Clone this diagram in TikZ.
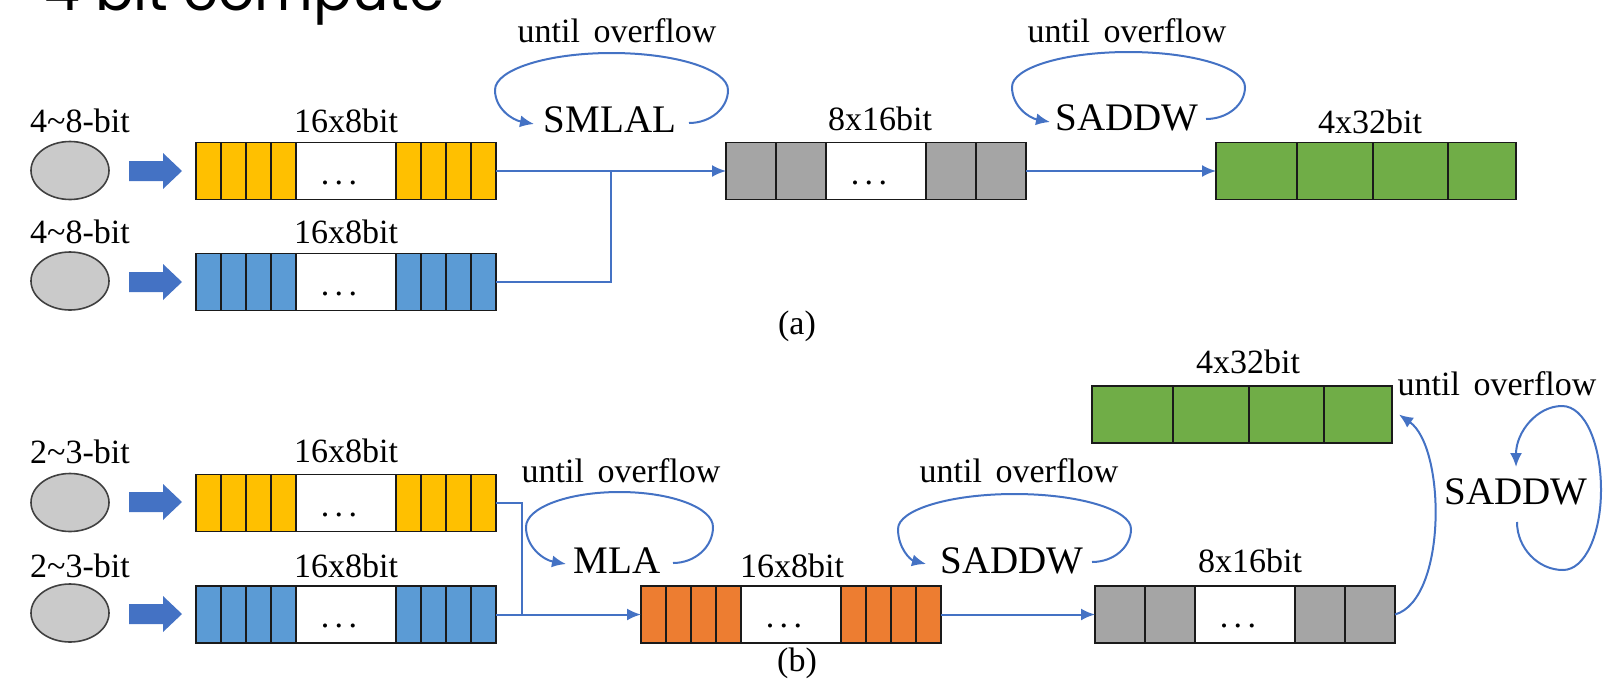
\documentclass[tikz,border=0pt]{standalone}
\usepackage{fontspec}
\setmainfont{Liberation Serif}
\newfontfamily\titlefont{Poppins}
\usetikzlibrary{shapes.geometric,arrows.meta}

\definecolor{laneyellow}{HTML}{FFC000}
\definecolor{laneblue}{HTML}{5B9BD5}
\definecolor{laneorange}{HTML}{ED7D31}
\definecolor{lanegray}{HTML}{A5A5A5}
\definecolor{lanegreen}{HTML}{70AD47}
\definecolor{flowblue}{HTML}{4472C4}
\definecolor{srcfill}{HTML}{CACACA}
\definecolor{srcline}{HTML}{404040}
\definecolor{regline}{HTML}{1A1A1A}

\tikzset{
  reg/.style={rectangle, draw=regline, line width=1.9pt, fill=white,
    minimum width=300pt, minimum height=57pt, inner sep=0pt, outer sep=0pt},
  lane/.style={draw=regline, line width=1.9pt},
  src/.style={ellipse, draw=srcline, line width=1.6pt, fill=srcfill,
    minimum width=78pt, minimum height=58pt, inner sep=0pt},
  lbl/.style={anchor=base, inner sep=0pt, font=\fontsize{34}{40}\selectfont},
  op/.style={anchor=base, inner sep=0pt, font=\fontsize{39}{46}\selectfont},
  dots/.style={anchor=base, inner sep=0pt, font=\fontsize{34}{40}\selectfont},
  flow/.style={draw=flowblue, line width=2pt},
  flowtip/.style={-{Latex[length=14pt,width=12pt]}},
  blockarrow/.style={fill=flowblue},
}

% coloured lanes of a register: list macro of left/right offsets from its west side
\newcommand\fillLanes[3]{%
  \foreach \lo/\hi in #3
    \draw[lane, fill=#2] ([xshift=\lo pt]#1.north west) rectangle ([xshift=\hi pt]#1.south west);
}
\newcommand\lanedots{.\kern5.5pt.\kern5.5pt.}
\newcommand\sixteenLanes{0/25,25/50,50/75,75/100,200/225,225/250,250/275,275/300}
\newcommand\eightLanes{0/50,50/100,200/250,250/300}
\newcommand\fourLanes{0/81,81/157,157/232,232/300}

% fat input arrow: left x, centre y
\newcommand\inputArrow[2]{%
  \fill[blockarrow] (#1,#2-10) -- (#1+34,#2-10) -- (#1+34,#2-18) -- (#1+53,#2)
    -- (#1+34,#2+18) -- (#1+34,#2+10) -- (#1,#2+10) -- cycle;
}

% repeat loop over an instruction: left, right, top, side y, tip x, tip y, start x, start y
\newcommand\opLoop[8]{%
  \draw[flow,flowtip] (#7,#8)
    .. controls ({#7+0.552*(#2-#7)},#8) and (#2,{#4+0.552*(#8-#4)}) .. (#2,#4)
    .. controls (#2,{#4-0.552*(#4-#3)}) and ({(#1+#2)/2+0.276*(#2-#1)},#3) .. ({(#1+#2)/2},#3)
    .. controls ({(#1+#2)/2-0.276*(#2-#1)},#3) and (#1,{#4-0.552*(#4-#3)}) .. (#1,#4)
    .. controls (#1,{#4+0.552*(#6-#4)}) and ({#5-0.552*(#5-#1)},{#6-4}) .. (#5,#6);
}

\begin{document}
\begin{tikzpicture}[x=1pt,y=-1pt]
\useasboundingbox (0,0) rectangle (1603,686);
\clip (0,0) rectangle (1603,686);

\node[anchor=base west, inner sep=0pt, font=\titlefont\fontsize{57}{60}\selectfont] (title) at (44,10) {4 bit compute};

% ---------------- (a) ----------------
\node[src] (ea1) at (70,170.5) {};
\node[src] (ea2) at (70,281) {};
\inputArrow{129}{171}
\inputArrow{129}{282}
\node[lbl] (la1) at (80,132) {4\textasciitilde 8-bit};
\node[lbl] (la2) at (80,243) {4\textasciitilde 8-bit};

\node[reg] (ya) at (346,171) {};
\fillLanes{ya}{laneyellow}{\sixteenLanes}
\node[dots] (ya-d) at ([xshift=-7pt,yshift=-13pt]ya.center) {\lanedots};
\node[lbl] (ya-l) at (346,132) {16x8bit};

\node[reg] (ba) at (346,282) {};
\fillLanes{ba}{laneblue}{\sixteenLanes}
\node[dots] (ba-d) at ([xshift=-7pt,yshift=-13pt]ba.center) {\lanedots};
\node[lbl] (ba-l) at (346,243) {16x8bit};

\node[reg] (gra) at (876,171) {};
\fillLanes{gra}{lanegray}{\eightLanes}
\node[dots] (gra-d) at ([xshift=-7pt,yshift=-13pt]gra.center) {\lanedots};
\node[lbl] (gra-l) at (880,130) {8x16bit};

\node[reg] (gna) at (1366,171) {};
\fillLanes{gna}{lanegreen}{\fourLanes}
\node[lbl] (gna-l) at (1370,133) {4x32bit};

\coordinate (ja) at (611,171);
\draw[flow,flowtip] (ya.east) -- (gra.west);
\draw[flow] (ba.east) -| (ja);
\draw[flow,flowtip] (gra.east) -- (gna.west);

\node[lbl] (uo1) at (617,42) {until\hspace{0.4em}overflow};
\node[op] (smlal) at (610,132) {SMLAL};
\opLoop{495}{728}{53}{90}{534}{124}{689}{123}

\node[lbl] (uo2) at (1127,42) {until\hspace{0.4em}overflow};
\node[op] (saddwa) at (1127,130) {SADDW};
\opLoop{1012}{1245}{52}{87}{1050}{122}{1206}{119}

\node[lbl] (capa) at (797,334) {(a)};

% ---------------- (b) ----------------
\node[src] (eb1) at (70,502.5) {};
\node[src] (eb2) at (70,613) {};
\inputArrow{129}{502}
\inputArrow{129}{614}
\node[lbl] (lb1) at (80,463) {2\textasciitilde 3-bit};
\node[lbl] (lb2) at (80,577) {2\textasciitilde 3-bit};

\node[reg] (yb) at (346,503) {};
\fillLanes{yb}{laneyellow}{\sixteenLanes}
\node[dots] (yb-d) at ([xshift=-7pt,yshift=-13pt]yb.center) {\lanedots};
\node[lbl] (yb-l) at (346,462) {16x8bit};

\node[reg] (bb) at (346,614.5) {};
\fillLanes{bb}{laneblue}{\sixteenLanes}
\node[dots] (bb-d) at ([xshift=-7pt,yshift=-13pt]bb.center) {\lanedots};
\node[lbl] (bb-l) at (346,577) {16x8bit};

\node[reg] (ob) at (791,614.5) {};
\fillLanes{ob}{laneorange}{\sixteenLanes}
\node[dots] (ob-d) at ([xshift=-7pt,yshift=-13pt]ob.center) {\lanedots};
\node[lbl] (ob-l) at (792,577) {16x8bit};

\node[reg] (grb) at (1245,614.5) {};
\fillLanes{grb}{lanegray}{\eightLanes}
\node[dots] (grb-d) at ([xshift=-7pt,yshift=-13pt]grb.center) {\lanedots};
\node[lbl] (grb-l) at (1250,572) {8x16bit};

\node[reg] (gnb) at (1242,414.5) {};
\fillLanes{gnb}{lanegreen}{\fourLanes}
\node[lbl] (gnb-l) at (1248,373) {4x32bit};

\coordinate (jb) at (522,614.5);
\draw[flow] (yb.east) -| (jb);
\draw[flow,flowtip] (bb.east) -- (ob.west);
\draw[flow,flowtip] (ob.east) -- (grb.west);
\draw[flow,flowtip] (grb.east) .. controls +(52,-15) and +(47,33) .. ([xshift=7pt]gnb.east);

\node[lbl] (uo3) at (621,482) {until\hspace{0.4em}overflow};
\node[op] (mla) at (617,573) {MLA};
\opLoop{526}{713}{492}{527}{566}{564}{673}{563}

\node[lbl] (uo4) at (1019,482) {until\hspace{0.4em}overflow};
\node[op] (saddwb) at (1012,573) {SADDW};
\opLoop{898}{1131}{494}{529}{926}{564}{1092}{562}

\node[lbl] (uo5) at (1497,395) {until\hspace{0.4em}overflow};
\node[op] (saddwc) at (1516,504) {SADDW};
\draw[flow,flowtip] (1517,522)
  .. controls (1517,548) and (1538,570) .. (1563,570)
  .. controls (1585,570) and (1601,534) .. (1601,490)
  .. controls (1601,444) and (1585,406) .. (1562,406)
  .. controls (1537,406) and (1516,432) .. (1516,467);

\node[lbl] (capb) at (797,671) {(b)};
\end{tikzpicture}
\end{document}
